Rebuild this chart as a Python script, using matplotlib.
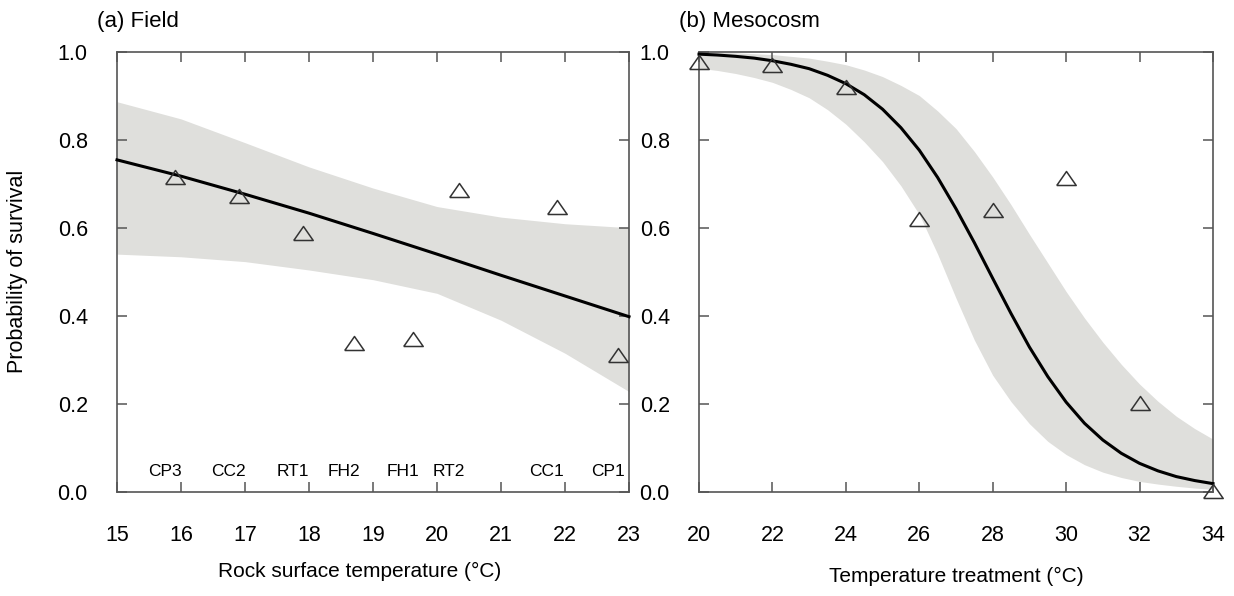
import matplotlib
matplotlib.use("Agg")
import matplotlib.pyplot as plt
import numpy as np

plt.rcParams['font.family'] = ['Liberation Sans', 'DejaVu Sans']

# ---- Panel (a) Field ----
site_names = ["CP3", "CC2", "RT1", "FH2", "FH1", "RT2", "CC1", "CP1"]
site_temp = [15.91, 16.90, 17.91, 18.70, 19.62, 20.34, 21.87, 22.83]
site_surv = [0.716, 0.672, 0.589, 0.338, 0.347, 0.686, 0.648, 0.311]

field_x = [15, 16, 17, 18, 19, 20, 21, 22, 23]
field_fit = [0.754, 0.717, 0.676, 0.633, 0.587, 0.540, 0.492, 0.445, 0.398]
field_upper = [0.886, 0.847, 0.793, 0.738, 0.690, 0.648, 0.624, 0.609, 0.600]
field_lower = [0.540, 0.534, 0.523, 0.504, 0.482, 0.451, 0.390, 0.315, 0.228]

# ---- Panel (b) Mesocosm ----
meso_temp = [20, 22, 24, 26, 28, 30, 32, 34]
meso_surv = [0.977, 0.969, 0.920, 0.620, 0.640, 0.712, 0.203, 0.002]

meso_x = [20, 20.5, 21, 21.5, 22, 22.5, 23, 23.5, 24, 24.5, 25, 25.5, 26, 26.5,
          27, 27.5, 28, 28.5, 29, 29.5, 30, 30.5, 31, 31.5, 32, 32.5, 33, 33.5, 34]
meso_fit = [0.994, 0.992, 0.989, 0.985, 0.979, 0.971, 0.961, 0.946, 0.927, 0.902,
            0.869, 0.827, 0.776, 0.714, 0.643, 0.566, 0.485, 0.405, 0.329, 0.262,
            0.204, 0.156, 0.118, 0.088, 0.065, 0.048, 0.035, 0.026, 0.019]
meso_upper = [0.999, 0.998, 0.997, 0.995, 0.993, 0.989, 0.985, 0.978, 0.970, 0.958,
              0.943, 0.923, 0.900, 0.865, 0.825, 0.773, 0.715, 0.652, 0.585, 0.520,
              0.455, 0.395, 0.340, 0.290, 0.245, 0.206, 0.172, 0.144, 0.120]
meso_lower = [0.962, 0.957, 0.950, 0.941, 0.930, 0.914, 0.895, 0.868, 0.835, 0.795,
              0.750, 0.695, 0.630, 0.540, 0.440, 0.345, 0.265, 0.205, 0.155, 0.115,
              0.085, 0.062, 0.045, 0.033, 0.024, 0.018, 0.013, 0.009, 0.006]

field_xticks = [15, 16, 17, 18, 19, 20, 21, 22, 23]
meso_xticks = [20, 22, 24, 26, 28, 30, 32, 34]
yticks = [0.0, 0.2, 0.4, 0.6, 0.8, 1.0]

band_color = "#dfdfdc"
spine_color = "#555555"
marker_color = "#333333"
tri = [(-1.0, -0.72), (1.0, -0.72), (0.0, 0.72), (-1.0, -0.72)]

fig = plt.figure(figsize=(12.34, 5.96), dpi=100)
axA = fig.add_axes([117/1234, 1-492/596, 512/1234, 440.5/596])
axB = fig.add_axes([699/1234, 1-492/596, 514/1234, 440.5/596])

FS = 15.5
LFS = 15
TFS = 16


def style(ax, xticks, xlim):
    ax.set_xlim(*xlim)
    ax.set_ylim(0, 1)
    ax.set_xticks(xticks)
    ax.set_yticks(yticks)
    ax.set_yticklabels([f"{v:.1f}" for v in yticks])
    for s in ax.spines.values():
        s.set_color(spine_color)
        s.set_linewidth(1.2)
    ax.tick_params(direction="in", top=True, right=True, length=7, width=1.1,
                   color=spine_color, labelsize=FS, labelcolor="black")
    ax.tick_params(axis="x", pad=24)
    ax.tick_params(axis="y", pad=21)


# Panel a
axA.fill_between(field_x, field_lower, field_upper, color=band_color, lw=0, zorder=1)
axA.plot(field_x, field_fit, color="black", lw=2.2, zorder=3, clip_on=False)
axA.plot(site_temp, site_surv, linestyle="none", marker=tri, markersize=14,
         markerfacecolor="none", markeredgecolor=marker_color, markeredgewidth=1.1, zorder=4)
for name, t in zip(site_names, site_temp):
    axA.annotate(name, (t, 0.046), xytext=(-10, 0), textcoords="offset pixels",
                 ha="center", va="center", fontsize=12.5)
style(axA, field_xticks, (15, 23))
axA.set_xlabel("Rock surface temperature (\u00b0C)", fontsize=LFS)
axA.xaxis.set_label_coords(0.473, -0.158)
axA.set_ylabel("Probability of survival", fontsize=FS)
axA.yaxis.set_label_coords(-0.174, 0.5)
axA.text(-0.039, 1.0563, "(a) Field", transform=axA.transAxes, fontsize=TFS,
         ha="left", va="baseline")

# Panel b
axB.fill_between(meso_x, meso_lower, meso_upper, color=band_color, lw=0, zorder=1)
axB.plot(meso_x, meso_fit, color="black", lw=2.2, zorder=3, clip_on=False)
axB.plot(meso_temp, meso_surv, linestyle="none", marker=tri, markersize=14,
         markerfacecolor="none", markeredgecolor=marker_color, markeredgewidth=1.1,
         zorder=4, clip_on=False)
style(axB, meso_xticks, (20, 34))
axB.set_xlabel("Temperature treatment (\u00b0C)", fontsize=LFS)
axB.xaxis.set_label_coords(0.5, -0.170)
axB.text(-0.039, 1.0563, "(b) Mesocosm", transform=axB.transAxes, fontsize=TFS,
         ha="left", va="baseline")

fig.savefig("out.png", dpi=100)
